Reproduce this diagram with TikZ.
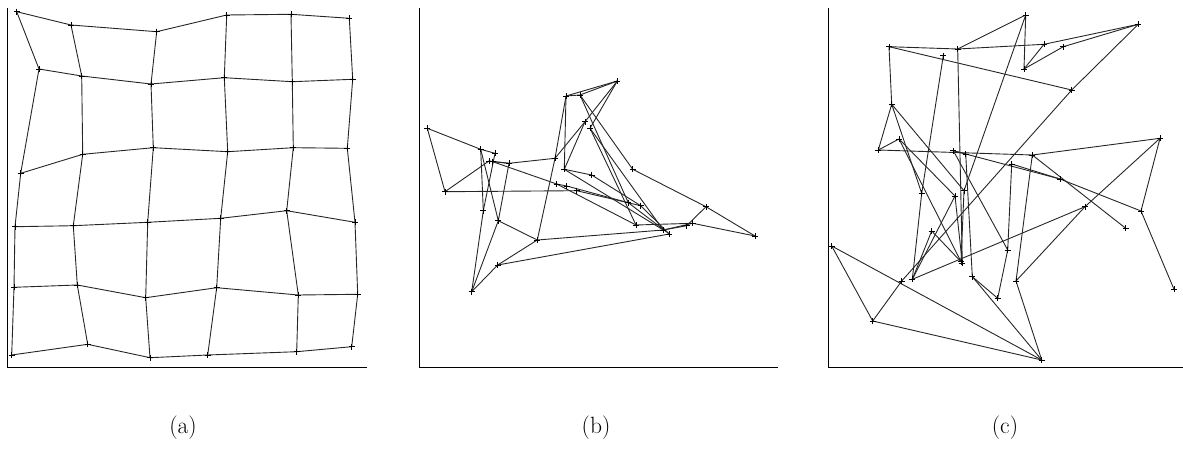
\documentclass[tikz,border=0pt]{standalone}
\begin{document}
\begin{tikzpicture}[x=1pt,y=-1pt,
  edge/.style={line width=0.9pt,black!85},
  axis/.style={line width=1pt,black},
  mk/.style={line width=0.8pt,black},
  lab/.style={font=\fontsize{23.5}{28}\selectfont,inner sep=0pt}]
\useasboundingbox (0,0) rectangle (1183,452);
\newcommand{\crossat}[1]{\draw[mk] (#1) +(-3,0) -- +(3,0) (#1) +(0,-3) -- +(0,3);}
% ---------- panel (a)
\foreach \n/\x/\y in {
 11/16.7/11.7, 12/71/25, 13/156.7/31.7, 14/226.7/15, 15/291/14.3, 16/349.3/18.3,
 21/39/69, 22/81.7/76, 23/151/84, 24/224.3/77.7, 25/292.3/81.7, 26/352.7/79.3,
 31/20.7/173.3, 32/82.7/154.3, 33/153.3/147.7, 34/227.7/151.7, 35/293.3/147.7, 36/347.3/148.3,
 41/15/226.7, 42/73.3/225.7, 43/147.7/222.3, 44/220.7/218.3, 45/286.7/210.7, 46/355/222.3,
 51/14/287.3, 52/77.3/285, 53/145.7/297.7, 54/216.7/287.7, 55/298.3/295, 56/357.7/294.3,
 61/11.7/355, 62/87.7/344.3, 63/150/357.7, 64/207.7/355, 65/296.7/351.7, 66/351.7/346.7}
 \coordinate (a\n) at (\x,\y);
\foreach \r in {1,...,6}{
  \foreach \c [count=\m from 2] in {1,...,5}{
    \draw[edge] (a\r\c) -- (a\r\m);
    \draw[edge] (a\c\r) -- (a\m\r);
  }}
\foreach \r in {1,...,6}{\foreach \c in {1,...,6}{\crossat{a\r\c}}}
\coordinate (aT) at (7,8); \coordinate (aO) at (7,367); \coordinate (aR) at (367,367);
\draw[axis] (aT) -- (aO) -- (aR);
\node[lab] (la) at (183,428) {(a)};
% ---------- panel (b)
\foreach \n/\x/\y in {
 1/427.3/128.3, 2/445/191.7, 3/480.7/149.3, 4/495/153.3, 5/489/161, 6/492.7/161.7,
 7/509/163.3, 8/483.3/210.7, 9/498.3/220.7, 10/471.7/291.7, 11/497.7/265, 12/537.3/240,
 13/555/158.3, 14/566/96, 15/580/95, 16/617.3/81, 17/585/121.7, 18/590/128.3,
 19/564.3/169.3, 20/591.7/175, 21/632.7/169.3, 22/576.7/190.7, 23/566.7/186, 24/556.7/184,
 25/628.3/202.7, 26/640.7/205.7, 27/636/225, 28/663.3/230, 29/669.3/234, 30/686.7/225.7,
 31/692.7/223.3, 32/706/206.7, 33/755/236}
 \coordinate (b\n) at (\x,\y);
\foreach \p/\q in {1/3,3/4,1/2,2/5,2/22,3/8,3/9,4/8,5/7,7/13,6/24,24/23,23/25,7/9,9/12,
  9/10,8/10,10/11,11/12,12/28,11/29,12/13,13/14,14/19,14/15,15/16,14/16,16/17,17/19,16/18,
  15/25,15/21,21/32,32/33,32/30,31/33,19/20,20/26,19/28,24/27,27/31,18/27,18/28,13/17,
  25/29,28/31,22/26,6/7,30/28,26/29}
  \draw[edge] (b\p) -- (b\q);
\foreach \n in {1,...,33}{\crossat{b\n}}
\coordinate (bT) at (419,8); \coordinate (bO) at (419,367); \coordinate (bR) at (778,367);
\draw[axis] (bT) -- (bO) -- (bR);
\node[lab] (lb) at (596,428) {(b)};
% ---------- panel (c)
\foreach \n/\x/\y in {
 1/1025.7/15, 2/1138.3/24.3, 3/889/46.7, 4/957.7/49, 5/943.3/55.7, 6/1044/44.3,
 7/1063.3/46.7, 8/1024/69, 9/1071.7/90, 10/891.7/104.3, 11/899/139, 12/878.3/150,
 13/1160/138.3, 14/953.3/150.7, 15/965.7/154, 16/1011.7/164, 17/1032.3/155, 18/1060/179,
 19/921.7/193.3, 20/955/196, 21/964/190.7, 22/1085/206.7, 23/1141/211, 24/1125.7/228.3,
 25/931.7/231, 26/1007.7/250, 27/831.7/246, 28/961/261.7, 29/962.3/263.3, 30/972.3/276.7,
 31/901.7/281, 32/912.3/279.3, 33/1016/281, 34/997.7/298.3, 35/1174/289.3, 36/872.7/321,
 37/1041.7/360}
 \coordinate (c\n) at (\x,\y);
\foreach \p/\q in {3/4,4/6,4/1,1/8,8/6,8/7,6/2,7/2,2/9,9/31,3/9,3/10,10/12,12/11,12/17,
  17/13,13/23,23/35,16/18,18/23,13/22,22/33,22/32,10/19,10/21,11/28,1/21,5/19,19/32,4/29,
  14/18,17/24,16/26,17/33,33/37,27/36,27/37,36/37,36/31,30/37,30/34,34/26,26/14,32/25,
  25/28,11/20,20/29,21/28,14/15,32/20,15/30}
  \draw[edge] (c\p) -- (c\q);
\foreach \n in {1,...,37}{\crossat{c\n}}
\coordinate (cT) at (828,8); \coordinate (cO) at (828,367); \coordinate (cR) at (1183,367);
\draw[axis] (cT) -- (cO) -- (cR);
\node[lab] (lc) at (1005,428) {(c)};
\end{tikzpicture}
\end{document}
